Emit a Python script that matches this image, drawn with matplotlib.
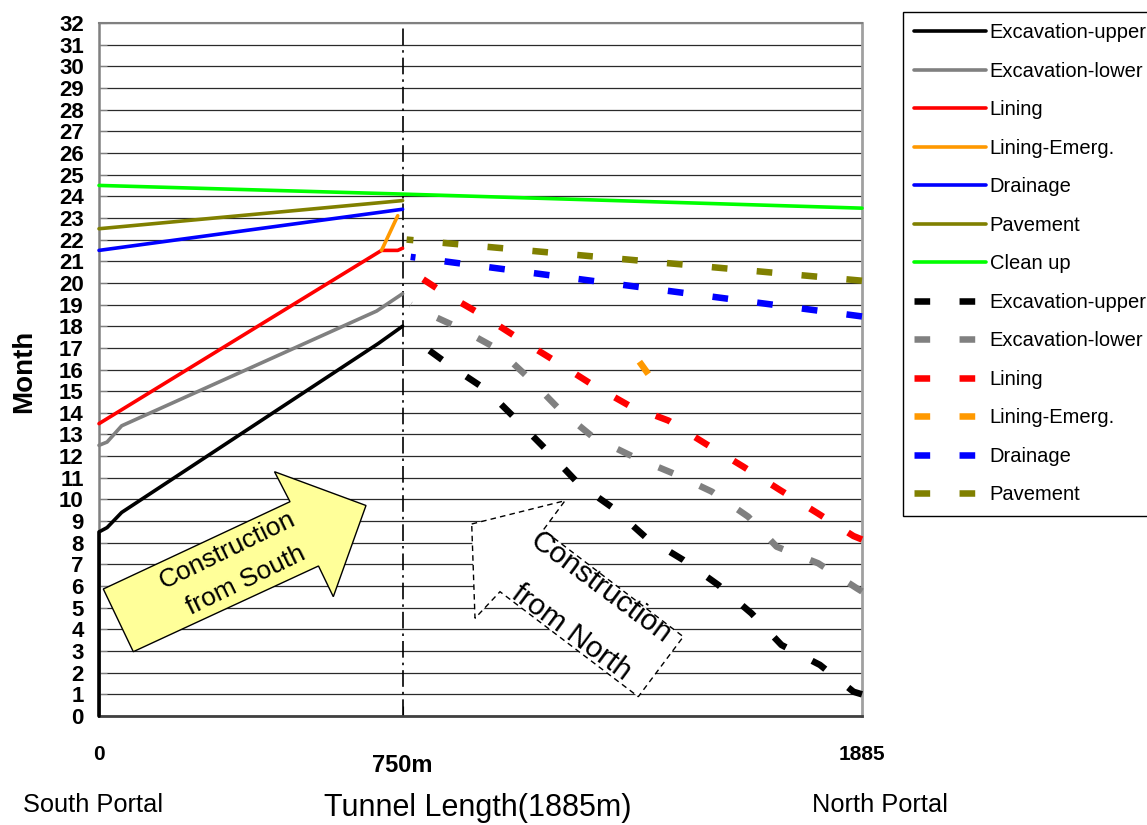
import numpy as np
import matplotlib
matplotlib.use("Agg")
import matplotlib.pyplot as plt
from matplotlib.patches import Polygon

plt.rcParams['font.family'] = ['Liberation Sans', 'DejaVu Sans']

# ---------- data (x: metres from south portal, y: month) ----------
# construction from south (solid)
exc_up_s_x = [0, 0, 20, 56, 690, 750]
exc_up_s_y = [0, 8.5, 8.7, 9.4, 17.2, 18.0]
exc_lo_s_x = [0, 20, 56, 686, 750]
exc_lo_s_y = [12.5, 12.65, 13.4, 18.7, 19.5]
lining_s_x = [0, 698, 738, 750]
lining_s_y = [13.5, 21.5, 21.5, 21.6]
emerg_s_x = [698, 738]
emerg_s_y = [21.5, 23.1]
drain_s_x = [0, 750]
drain_s_y = [21.5, 23.4]
pave_s_x = [0, 750]
pave_s_y = [22.5, 23.8]
clean_x = [0, 750, 1885]
clean_y = [24.5, 24.1, 23.45]

# construction from north (dashed), listed from the north portal
exc_up_n_x = [1885, 1864, 1781, 1686, 1612, 1530, 1444, 1349, 1271, 1184, 1110, 1036, 958, 871, 763]
exc_up_n_y = [1.0, 1.12, 2.36, 3.28, 4.74, 6.05, 7.2, 8.28, 9.59, 10.74, 12.2, 13.6, 15.05, 16.13, 17.6]
exc_lo_n_x = [1885, 1872, 1777, 1674, 1604, 1514, 1419, 1320, 1221, 1139, 1065, 986, 892, 793, 770]
exc_lo_n_y = [5.75, 5.9, 7.05, 7.82, 9.2, 10.36, 11.2, 11.97, 12.87, 14.13, 15.55, 16.93, 17.9, 18.75, 19.0]
lining_n_x = [1885, 1864, 1773, 1682, 1592, 1497, 1407, 1312, 1217, 1127, 1036, 946, 851, 757]
lining_n_y = [8.15, 8.31, 9.39, 10.44, 11.51, 12.59, 13.64, 14.31, 15.32, 16.39, 17.44, 18.52, 19.55, 20.7]
emerg_n_x = [1357, 1335]
emerg_n_y = [15.79, 16.36]
drain_n_x = [1885, 770]
drain_n_y = [18.45, 21.2]
pave_n_x = [1885, 760]
pave_n_y = [20.1, 22.0]

labels_solid = ["Excavation-upper", "Excavation-lower", "Lining", "Lining-Emerg.",
                "Drainage", "Pavement", "Clean up"]
labels_dash = ["Excavation-upper", "Excavation-lower", "Lining", "Lining-Emerg.",
               "Drainage", "Pavement"]

C_BLACK, C_GRAY, C_RED, C_ORANGE = "#000000", "#808080", "#ff0000", "#ff9900"
C_BLUE, C_OLIVE, C_GREEN = "#0000ff", "#808000", "#00ff00"

# ---------- figure ----------
W, H = 1147, 825
fig = plt.figure(figsize=(W / 100, H / 100), dpi=100)
x0, x1, yt, yb = 99, 862, 23, 716
ax = fig.add_axes([x0 / W, 1 - yb / H, (x1 - x0) / W, (yb - yt) / H])
ax.set_xlim(0, 1885)
ax.set_ylim(0, 32)

def px2ax(px, py):
    return ((px - x0) / (x1 - x0), (yb - py) / (yb - yt))

# grid
ax.set_axisbelow(True)
ax.set_yticks(range(0, 33))
ax.yaxis.grid(True, color="#2a2a2a", lw=0.9)
ax.set_xticks([750])
ax.tick_params(axis="x", direction="in", length=7, labelbottom=False, color="black")
ax.tick_params(axis="y", direction="in", length=6, color="#808080", pad=11)
for lab in ax.get_yticklabels():
    lab.set_fontweight("bold")
    lab.set_fontsize(16)

for s, c, w in [("left", "#808080", 1.8), ("top", "#808080", 1.5),
                ("right", "#a0a0a0", 2.0), ("bottom", "#404040", 2.0)]:
    ax.spines[s].set_color(c)
    ax.spines[s].set_linewidth(w)

# arrows
south_px = [(133.3, 651.7), (103.3, 589), (290, 501.7), (274.5, 471.7),
            (366, 505.5), (333.3, 596.7), (318.5, 566)]
north_px = [(471.7, 524), (565, 500.7), (543.3, 530), (683.3, 636.7),
            (638.3, 696.7), (500, 591.7), (475, 618.3)]
ax.add_patch(Polygon([px2ax(*p) for p in south_px], closed=True, transform=ax.transAxes,
                     facecolor="#ffff99", edgecolor="black", lw=1.0, zorder=1.5))
ax.add_patch(Polygon([px2ax(*p) for p in north_px], closed=True, transform=ax.transAxes,
                     facecolor="white", edgecolor="black", lw=1.0, ls=(0, (4, 3)), zorder=1.5))

ax.text(*px2ax(227.3, 550), "Construction", rotation=26, ha="center", va="center",
        fontsize=19, transform=ax.transAxes, rotation_mode="anchor", zorder=1.6)
ax.text(*px2ax(245.7, 580), "from South", rotation=26, ha="center", va="center",
        fontsize=19, transform=ax.transAxes, rotation_mode="anchor", zorder=1.6)
ax.text(*px2ax(600.8, 587.5), "Construction", rotation=-36.5, ha="center", va="center",
        fontsize=21.5, transform=ax.transAxes, rotation_mode="anchor", zorder=1.6)
ax.text(*px2ax(571.7, 632.3), "from North", rotation=-36.5, ha="center", va="center",
        fontsize=21.5, transform=ax.transAxes, rotation_mode="anchor", zorder=1.6)

# divide line at 750 m
ax.axvline(750, color="black", lw=1.2, dashes=(10, 3, 1.5, 3), zorder=1.8)

# series
LW_S = 2.6
LW_D = 4.7
DASH = (2.4, 4.5)
solid = []
for xs, ys, c in [(exc_up_s_x, exc_up_s_y, C_BLACK), (exc_lo_s_x, exc_lo_s_y, C_GRAY),
                  (lining_s_x, lining_s_y, C_RED), (emerg_s_x, emerg_s_y, C_ORANGE),
                  (drain_s_x, drain_s_y, C_BLUE), (pave_s_x, pave_s_y, C_OLIVE),
                  (clean_x, clean_y, C_GREEN)]:
    ln, = ax.plot(xs, ys, color=c, lw=LW_S, solid_capstyle="round", clip_on=False, zorder=3)
    solid.append(ln)
dashed = []
for xs, ys, c in [(exc_up_n_x, exc_up_n_y, C_BLACK), (exc_lo_n_x, exc_lo_n_y, C_GRAY),
                  (lining_n_x, lining_n_y, C_RED), (emerg_n_x, emerg_n_y, C_ORANGE),
                  (drain_n_x, drain_n_y, C_BLUE), (pave_n_x, pave_n_y, C_OLIVE)]:
    ln, = ax.plot(xs, ys, color=c, lw=LW_D, dashes=DASH, dash_capstyle="butt",
                  clip_on=False, zorder=3)
    dashed.append(ln)

# legend (runs off the right edge, as in the original)
leg = ax.legend(solid + dashed, labels_solid + labels_dash, loc="upper left",
                bbox_to_anchor=(903 / W, 1 - 12 / H), bbox_transform=fig.transFigure,
                frameon=True, fancybox=False, edgecolor="black", framealpha=1,
                borderpad=0.55, borderaxespad=0, handlelength=3.55, handletextpad=0.2,
                labelspacing=0.97, fontsize=14.5)
leg.get_frame().set_linewidth(1.0)

# axis texts
tr = ax.get_xaxis_transform()
ax.text(0, -(755 - yb) / (yb - yt), "0", transform=tr, ha="center", va="center",
        fontsize=15, fontweight="bold")
ax.text(750, -(766 - yb) / (yb - yt), "750m", transform=tr, ha="center", va="center",
        fontsize=17, fontweight="bold")
ax.text(1885, -(754 - yb) / (yb - yt), "1885", transform=tr, ha="center", va="center",
        fontsize=15, fontweight="bold")
fig.text(93 / W, 1 - 805 / H, "South Portal", ha="center", va="center", fontsize=18.3)
fig.text(478 / W, 1 - 808 / H, "Tunnel Length(1885m)", ha="center", va="center", fontsize=22)
fig.text(880 / W, 1 - 805 / H, "North Portal", ha="center", va="center", fontsize=18.3)
fig.text(24 / W, 1 - 371 / H, "Month", rotation=90, ha="center", va="center",
         fontsize=20, fontweight="bold")

fig.savefig("out.png", dpi=100)
